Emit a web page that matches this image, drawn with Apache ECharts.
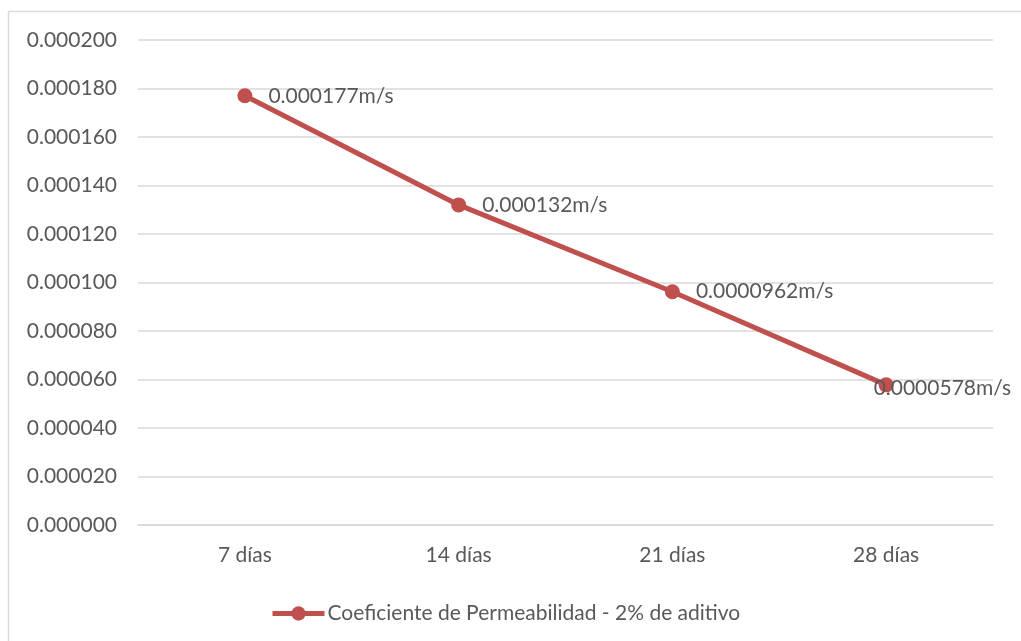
<!DOCTYPE html>
<html>
<head>
<meta charset="utf-8">
<script src="https://cdn.jsdelivr.net/npm/echarts@6/dist/echarts.min.js"></script>
<style>
  html, body { margin: 0; padding: 0; background: #ffffff; }
  #chart { width: 1021px; height: 641px; }
</style>
</head>
<body>
<div id="chart"></div>
<script>
// Permeability coefficient over curing time
const categories = ['7 días', '14 días', '21 días', '28 días'];
const permeability = [0.000177, 0.000132, 0.0000962, 0.0000578];
const pointLabels = ['0.000177m/s', '0.000132m/s', '0.0000962m/s', '0.0000578m/s'];
const seriesName = 'Coeficiente de Permeabilidad - 2% de aditivo';

const FONT = 'Lato, "Open Sans", sans-serif';
const TEXT = '#595959';
const GRID = '#d9d9d9';
const RED = '#c0504d';

const chart = echarts.init(document.getElementById('chart'), null, { renderer: 'canvas' });

const data = permeability.map((v, i) => {
  const item = { value: v };
  if (i === permeability.length - 1) {
    item.label = { offset: [-36, 3] };
  }
  return item;
});

chart.setOption({
  animation: false,
  backgroundColor: '#ffffff',
  textStyle: { fontFamily: FONT },
  graphic: [{
    type: 'rect',
    shape: { x: 8.5, y: 11.5, width: 1030, height: 650 },
    style: { fill: 'none', stroke: GRID, lineWidth: 1.5 },
    silent: true
  }],
  grid: { left: 138, right: 28, top: 40, bottom: 116, containLabel: false },
  legend: {
    data: [seriesName],
    left: 265,
    top: 598,
    itemWidth: 52,
    itemHeight: 18,
    itemStyle: { color: RED },
    lineStyle: { color: RED, width: 5 },
    textStyle: { color: TEXT, fontSize: 21, fontFamily: FONT, padding: [0, 0, 0, -2] }
  },
  xAxis: {
    type: 'category',
    data: categories,
    boundaryGap: true,
    axisLine: { show: true, lineStyle: { color: GRID, width: 1.5 } },
    axisTick: { show: false },
    axisLabel: { color: TEXT, fontSize: 21, fontFamily: FONT, margin: 20 }
  },
  yAxis: {
    type: 'value',
    min: 0,
    max: 0.0002,
    interval: 0.00002,
    axisLine: { show: false },
    axisTick: { show: false },
    splitLine: { lineStyle: { color: GRID, width: 1.5 } },
    axisLabel: {
      color: TEXT,
      fontSize: 21,
      fontFamily: FONT,
      margin: 21,
      formatter: v => v.toFixed(6)
    }
  },
  series: [{
    name: seriesName,
    type: 'line',
    data: data,
    symbol: 'circle',
    symbolSize: 15,
    lineStyle: { color: RED, width: 5 },
    itemStyle: { color: RED },
    label: {
      show: true,
      position: 'right',
      distance: 16,
      color: TEXT,
      fontSize: 21,
      fontFamily: FONT,
      formatter: p => pointLabels[p.dataIndex]
    }
  }]
});
</script>
</body>
</html>
